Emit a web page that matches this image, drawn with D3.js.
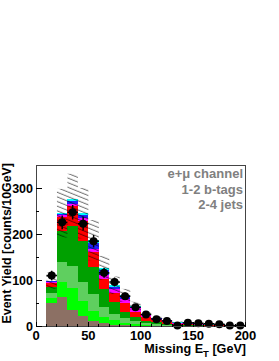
<!DOCTYPE html>
<html><head><meta charset="utf-8">
<script src="https://cdn.jsdelivr.net/npm/d3@7"></script>
<style>html,body{margin:0;padding:0;background:#fff;}svg{display:block;}</style>
</head><body>
<script>
const binLow = [10,20,30,40,50,60,70,80,90,100,110,120,130,140,150,160,170,180,190];
const brown   = [52,65,36,22,12,7,4,3,2,1,1,0.5,0.5,0.3,0.3,0.2,0.2,0.1,0.1];
const lime    = [10,31,48,33,22,13,10,5,3,2,1,1,0.5,0.5,0.4,0.3,0.3,0.2,0.2];
const ltgreen = [11,44,47,41,37,22,13,10,7,4,3,2,1,1,0.8,0.6,0.5,0.4,0.3];
const dkgreen = [14,69,88,90,58,39,27,14,9,5,4,3,2,1.5,1.2,1,0.8,0.6,0.5];
const red     = [8,30,43,44,33,22,20,19,11,8,5,4,2.5,2,1.5,1.2,1,0.8,0.6];
const magenta = [2,3,5,6,8,10,8,10,8,4,3,2,1.5,1,0.8,0.7,0.5,0.4,0.3];
const blue    = [2,3,7,7,12,10,5,5,3,2,1,1,0.5,0.5,0.4,0.3,0.3,0.2,0.2];
const cyan    = [1,2,4,4,6,5,3,2,2,1,1,0.5,0.5,0.2,0.2,0.2,0.1,0.1,0.1];
const unc     = [18,53,55,55,44,26,19,14,9,6,4,3,2,1.5,1.2,1,0.8,0.6,0.5];
const dataVal = [111,227,249,224,186,117,97,66,42,26,16,12,2,8,7,6,5,2,2];
const dataErr = [10.5,15,15.8,15,13.6,10.8,9.8,8.1,6.5,5.1,4,3.5,1.4,2.8,2.6,2.4,2.2,1.4,1.4];
const xTicks = [0,50,100,150,200];
const yTicks = [0,100,200,300];
const yMinor = [50,150,250];
const xMinor = [10,20,30,40,60,70,80,90,110,120,130,140,160,170,180,190];
const layerNames = ["brown","lime","ltgreen","dkgreen","red","magenta","blue","cyan"];
const layerColors = ["#8c7064","#00ff00","#5fcf5f","#00a000","#ff0000","#ff00ff","#2020ff","#00ffff"];
const labels = ["e+\u03bc channel","1-2 b-tags","2-4 jets"];
const binWidth = 10;

const W=279,H=361;
const svg=d3.select("body").append("svg").attr("width",W).attr("height",H);
const x=d3.scaleLinear().domain([0,200]).range([36,245.5]);
const y=d3.scaleLinear().domain([0,352]).range([326.5,165]);
const font="'Liberation Sans', Arial, Helvetica, sans-serif";

const defs=svg.append("defs");
const pat=defs.append("pattern").attr("id","hatch").attr("patternUnits","userSpaceOnUse")
  .attr("width",10).attr("height",4.3).attr("patternTransform","rotate(22)");
pat.append("line").attr("x1",0).attr("y1",2).attr("x2",10).attr("y2",2)
  .attr("stroke","#000").attr("stroke-width",0.6);

const rows=binLow.map((b,i)=>({x0:b,brown:brown[i],lime:lime[i],ltgreen:ltgreen[i],dkgreen:dkgreen[i],red:red[i],magenta:magenta[i],blue:blue[i],cyan:cyan[i]}));
const stackData=d3.stack().keys(layerNames)(rows);

const g=svg.append("g");
stackData.forEach((layer,li)=>{
  g.selectAll(null).data(layer).enter().append("rect")
   .attr("x",d=>x(d.data.x0)).attr("width",d=>x(d.data.x0+binWidth)-x(d.data.x0))
   .attr("y",d=>y(d[1])).attr("height",d=>Math.max(0,y(d[0])-y(d[1])))
   .attr("fill",layerColors[li]).attr("shape-rendering","crispEdges");
});
const topLayer=stackData[stackData.length-1];
g.selectAll(null).data(topLayer).enter().append("rect")
  .attr("x",d=>x(d.data.x0)).attr("width",d=>x(d.data.x0+binWidth)-x(d.data.x0))
  .attr("y",(d,i)=>y(d[1]+unc[i])).attr("height",(d,i)=>y(d[1]-unc[i])-y(d[1]+unc[i]))
  .attr("fill","url(#hatch)");

// data points
const dg=svg.append("g");
binLow.forEach((b,i)=>{
  const cx=x(b+binWidth/2), cy=y(dataVal[i]);
  dg.append("line").attr("x1",cx).attr("x2",cx).attr("y1",y(dataVal[i]+dataErr[i])).attr("y2",y(Math.max(0,dataVal[i]-dataErr[i])))
    .attr("stroke","#000").attr("stroke-width",1.5);
  dg.append("line").attr("x1",x(b)).attr("x2",x(b+binWidth)).attr("y1",cy).attr("y2",cy)
    .attr("stroke","#000").attr("stroke-width",1.5);
  dg.append("circle").attr("cx",cx).attr("cy",cy).attr("r",4).attr("fill","#000");
});

// frame
svg.append("rect").attr("x",x(0)).attr("y",y(352)).attr("width",x(200)-x(0)).attr("height",y(0)-y(352))
  .attr("fill","none").attr("stroke","#444").attr("stroke-width",1).attr("shape-rendering","crispEdges");

// ticks
const tg=svg.append("g").attr("stroke","#000").attr("stroke-width",1).attr("shape-rendering","crispEdges");
yTicks.forEach(t=>tg.append("line").attr("x1",x(0)).attr("x2",x(0)+6).attr("y1",y(t)).attr("y2",y(t)));
yMinor.forEach(t=>tg.append("line").attr("x1",x(0)).attr("x2",x(0)+3).attr("y1",y(t)).attr("y2",y(t)));
xTicks.forEach(t=>tg.append("line").attr("x1",x(t)).attr("x2",x(t)).attr("y1",y(0)).attr("y2",y(0)-5));
xMinor.forEach(t=>tg.append("line").attr("x1",x(t)).attr("x2",x(t)).attr("y1",y(0)).attr("y2",y(0)-2.5));

// tick labels
svg.selectAll(null).data(yTicks).enter().append("text")
  .attr("x",33).attr("y",d=>y(d)+4.5).attr("text-anchor","end")
  .attr("font-family",font).attr("font-weight","bold").attr("font-size",12.5).attr("fill","#000").text(d=>d);
svg.selectAll(null).data(xTicks).enter().append("text")
  .attr("x",d=>x(d)).attr("y",339.5).attr("text-anchor","middle")
  .attr("font-family",font).attr("font-weight","bold").attr("font-size",13).attr("fill","#000").text(d=>d);

// axis titles
const xt=svg.append("text").attr("x",246).attr("y",353).attr("text-anchor","end")
  .attr("font-family",font).attr("font-weight","bold").attr("font-size",12.6).attr("fill","#000");
xt.append("tspan").text("Missing E");
xt.append("tspan").attr("font-size",9.5).attr("dy",4).text("T");
xt.append("tspan").attr("dy",-4).text(" [GeV]");

svg.append("text").attr("transform","translate(10.5,163) rotate(-90)").attr("text-anchor","end")
  .attr("font-family",font).attr("font-weight","bold").attr("font-size",12.4).attr("fill","#000")
  .text("Event Yield [counts/10GeV]");

// labels
labels.forEach((t,i)=>svg.append("text").attr("x",243).attr("y",178+i*15.5).attr("text-anchor","end")
  .attr("font-family",font).attr("font-weight","bold").attr("font-size",13).attr("fill","#808080").text(t));
</script>
</body></html>
